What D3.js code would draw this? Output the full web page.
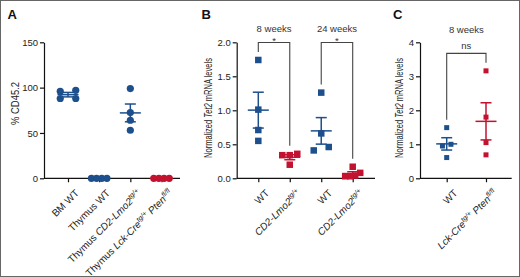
<!DOCTYPE html>
<html>
<head>
<meta charset="utf-8">
<script src="https://cdn.jsdelivr.net/npm/d3@7"></script>
<style>
  body { margin: 0; background: #fff; }
  svg text { font-family: "Liberation Sans", Arial, sans-serif; }
</style>
</head>
<body>
<div id="chart"></div>
<script>
// ---- data ----
// panel A: % CD45.2
const aCategories = ["BM WT", "Thymus WT", "Thymus *CD2-Lmo2*^tg/+^", "Thymus *Lck-Cre*^tg/+^ *Pten*^fl/fl^"];
const aBmWT = [96, 97, 88, 88];
const aThymusWT = [0, 0, 0, 0];
const aThymusLmo2 = [99, 72.5, 64, 53];
const aThymusPten = [0, 0, 0, 0];
const aTicks = [0, 50, 100, 150];

// panel B: normalized Tet2 mRNA, 8 and 24 weeks
const bCategories = ["WT", "*CD2-Lmo2*^tg/+^", "WT ", "*CD2-Lmo2*^tg/+^ "];
const bWT8 = [1.74, 1.01, 0.71, 0.55];
const bLmo2_8 = [0.36, 0.34, 0.34, 0.20];
const bWT24 = [1.26, 0.66, 0.41, 0.46];
const bLmo2_24 = [0.03, 0.08, 0.03, 0.17, 0.04];
const bTicks = [0, 0.5, 1.0, 1.5, 2.0];
const bTitles = ["8 weeks", "24 weeks"];
const bSig = ["*", "*"];

// panel C: normalized Tet2 mRNA, 8 weeks
const cCategories = ["WT", "*Lck-Cre*^tg/+^ *Pten*^fl/fl^"];
const cWT = [1.49, 1.0, 0.95, 0.61];
const cPten = [3.16, 1.80, 1.05, 0.69];
const cTicks = [0, 1, 2, 3, 4];
const cTitles = ["8 weeks"];
const cSig = ["ns"];

const blue = "#1c4f8c", red = "#c3122f";

const svg = d3.select("#chart").append("svg")
    .attr("width", 520)
    .attr("height", 277);

svg.append("rect")
    .attr("x", 0.5).attr("y", 0.5)
    .attr("width", 519).attr("height", 276)
    .attr("fill", "#fff")
    .attr("stroke", "#666");

// write "plain *italic* ^sup^" as tspans
function richText(sel, str, size) {
    const parts = str.trim().split(/(\*[^*]+\*|\^[^^]+\^)/).filter(s => s.length);
    parts.forEach(p => {
        if (p[0] === "*") {
            sel.append("tspan").attr("font-style", "italic").text(p.slice(1, -1));
        } else if (p[0] === "^") {
            sel.append("tspan").attr("font-style", "italic")
                .attr("font-size", size * 0.7).attr("dy", -size * 0.38).text(p.slice(1, -1));
            sel.append("tspan").attr("dy", size * 0.38).text("\u200b");
        } else {
            sel.append("tspan").text(p);
        }
    });
}

// spread points that sit on the same level into a row
function rowOffsets(values, y, size, rowW) {
    const idx = values.map((v, i) => i).sort((a, b) => values[a] - values[b]);
    const off = new Array(values.length).fill(0);
    let row = [];
    const flush = () => {
        const n = row.length;
        row.forEach((k, j) => { off[k] = n > 1 ? -rowW / 2 + j * rowW / (n - 1) : 0; });
        row = [];
    };
    idx.forEach(k => {
        if (row.length && Math.abs(y(values[k]) - y(values[row[0]])) >= size) flush();
        row.push(k);
    });
    flush();
    return off;
}

function drawPanel(cfg) {
    const g = svg.append("g");
    const y = d3.scaleLinear().domain(cfg.yDomain).range([cfg.y0, cfg.y1]);
    const x = d3.scalePoint().domain(cfg.categories).range(cfg.xRange);

    // y axis
    const ya = g.append("g")
        .attr("transform", `translate(${cfg.x0},0)`)
        .call(d3.axisLeft(y).tickValues(cfg.ticks).tickFormat(cfg.fmt)
            .tickSize(4).tickPadding(2).tickSizeOuter(0));
    ya.selectAll("path,line").attr("stroke", "#111").attr("stroke-width", 1.2);
    ya.selectAll("text").attr("font-size", 9.5).attr("fill", "#222");

    // x axis
    const xa = g.append("g")
        .attr("transform", `translate(0,${cfg.y0})`)
        .call(d3.axisBottom(x).tickSize(4).tickFormat(""));
    xa.select(".domain").remove();
    xa.selectAll("line").attr("stroke", "#111").attr("stroke-width", 1.2);
    xa.append("line")
        .attr("x1", cfg.x0).attr("x2", cfg.x1)
        .attr("stroke", "#111").attr("stroke-width", 1.2);

    cfg.categories.forEach(c => {
        const t = g.append("text")
            .attr("transform", `translate(${x(c) + 9},${cfg.y0 + 13}) rotate(-45)`)
            .attr("text-anchor", "end")
            .attr("dy", "0.35em")
            .attr("font-size", 10)
            .attr("fill", "#222");
        richText(t, c, 10);
    });

    // y label
    const yl = g.append("text")
        .attr("transform", `translate(${cfg.labelX},${cfg.labelY}) rotate(-90)`)
        .attr("text-anchor", "middle")
        .attr("font-size", 10)
        .attr("fill", "#222")
        .attr("textLength", cfg.labelLen)
        .attr("lengthAdjust", "spacingAndGlyphs");
    richText(yl, cfg.label, 10);

    // points, mean and SEM
    cfg.groups.forEach((vals, gi) => {
        const cx = x(cfg.categories[gi]);
        const col = cfg.colors[gi];
        const m = d3.mean(vals);
        const sem = d3.deviation(vals) / Math.sqrt(vals.length);
        const off = rowOffsets(vals, y, cfg.size, cfg.rowW);

        const e = g.append("g").attr("stroke", col).attr("stroke-width", 1.5).attr("fill", "none");
        e.append("line").attr("x1", cx - 10.5).attr("x2", cx + 10.5).attr("y1", y(m)).attr("y2", y(m));
        e.append("line").attr("x1", cx).attr("x2", cx).attr("y1", y(m - sem)).attr("y2", y(m + sem));
        [m - sem, m + sem].forEach(v => {
            e.append("line").attr("x1", cx - 5.5).attr("x2", cx + 5.5).attr("y1", y(v)).attr("y2", y(v));
        });

        if (cfg.shape === "circle") {
            g.selectAll(null).data(vals).enter().append("circle")
                .attr("cx", (d, i) => cx + off[i])
                .attr("cy", d => y(d))
                .attr("r", cfg.size / 2)
                .attr("fill", col);
        } else {
            g.selectAll(null).data(vals).enter().append("rect")
                .attr("x", (d, i) => cx + off[i] - cfg.size / 2)
                .attr("y", d => y(d) - cfg.size / 2)
                .attr("width", cfg.size)
                .attr("height", cfg.size)
                .attr("fill", col);
        }
    });

    // significance brackets
    if (cfg.pairs) {
        const top = y(d3.max(cfg.groups.flat())) - 17.5;
        cfg.pairs.forEach((p, k) => {
            const xl = x(cfg.categories[p[0]]), xr = x(cfg.categories[p[1]]);
            const yl = y(d3.max(cfg.groups[p[0]])) - 8;
            const yr = y(d3.max(cfg.groups[p[1]])) - 8;
            g.append("path")
                .attr("d", `M${xl},${yl}V${top}H${xr}V${yr}`)
                .attr("fill", "none").attr("stroke", "#444").attr("stroke-width", 1.1);
            g.append("text")
                .attr("x", (xl + xr) / 2).attr("y", cfg.sig[k] === "*" ? top + 2 : top - 4)
                .attr("text-anchor", "middle").attr("font-size", 9.5).attr("fill", "#333")
                .text(cfg.sig[k]);
            g.append("text")
                .attr("x", (xl + xr) / 2).attr("y", cfg.titleY)
                .attr("text-anchor", "middle").attr("font-size", 9.5).attr("fill", "#333")
                .text(cfg.titles[k]);
        });
    }

    g.append("text")
        .attr("x", cfg.letterX).attr("y", 18.5)
        .attr("font-size", 13).attr("font-weight", "bold").attr("fill", "#111")
        .text(cfg.letter);
}

drawPanel({
    letter: "A", letterX: 7.5,
    x0: 44, x1: 180, y0: 178.3, y1: 42.3, xRange: [68, 161.5],
    yDomain: [0, 150], ticks: aTicks, fmt: d3.format("d"),
    categories: aCategories,
    groups: [aBmWT, aThymusWT, aThymusLmo2, aThymusPten],
    colors: [blue, blue, blue, red],
    shape: "circle", size: 7.2, rowW: 15.5,
    label: "% CD45.2", labelX: 18.5, labelY: 103.5, labelLen: 43
});

drawPanel({
    letter: "B", letterX: 201.5,
    x0: 236.7, x1: 375, y0: 178.3, y1: 42.3, xRange: [258.3, 352.7],
    yDomain: [0, 2], ticks: bTicks, fmt: d3.format(".1f"),
    categories: bCategories,
    groups: [bWT8, bLmo2_8, bWT24, bLmo2_24],
    colors: [blue, red, blue, red],
    shape: "square", size: 6.5, rowW: 15,
    label: "Normalized *Tet2* mRNA levels", labelX: 211.5, labelY: 108, labelLen: 100,
    pairs: [[0, 1], [2, 3]], sig: bSig, titles: bTitles, titleY: 31.5
});

drawPanel({
    letter: "C", letterX: 393,
    x0: 420, x1: 511.7, y0: 178.3, y1: 42.3, xRange: [446.7, 486],
    yDomain: [0, 4], ticks: cTicks, fmt: d3.format("d"),
    categories: cCategories,
    groups: [cWT, cPten],
    colors: [blue, red],
    shape: "square", size: 5, rowW: 8.5,
    label: "Normalized *Tet2* mRNA levels", labelX: 402.5, labelY: 108, labelLen: 100,
    pairs: [[0, 1]], sig: cSig, titles: cTitles, titleY: 33
});
</script>
</body>
</html>
